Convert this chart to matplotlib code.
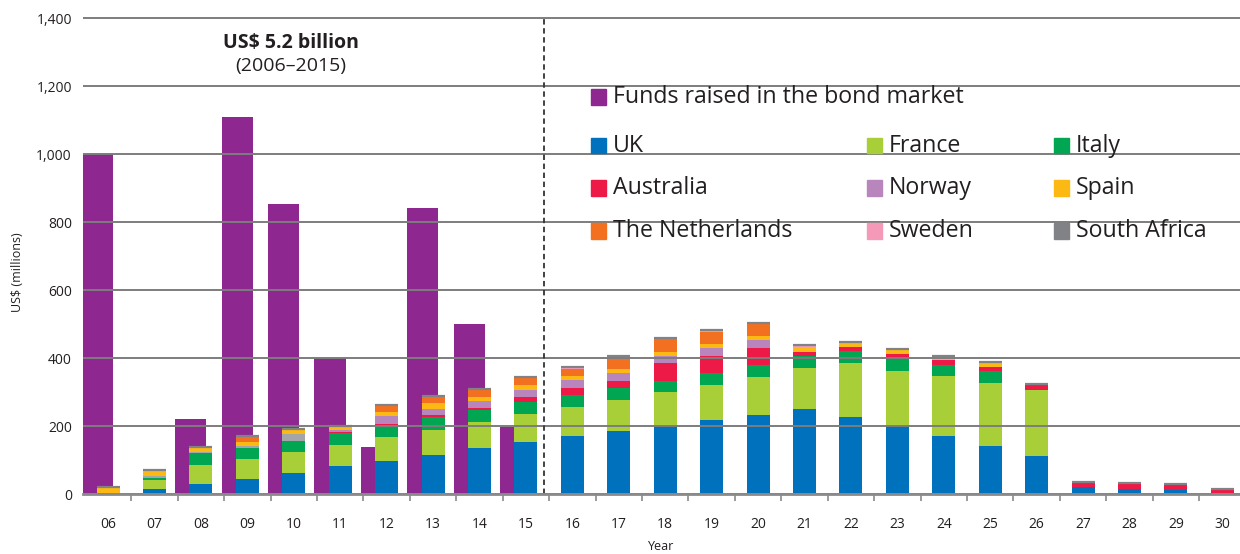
import numpy as np
import matplotlib
matplotlib.use("Agg")
import matplotlib.pyplot as plt
from matplotlib.patches import Rectangle

plt.rcParams['font.family'] = ['Open Sans', 'DejaVu Sans']

# data (US$ millions)
years = ['06', '07', '08', '09', '10', '11', '12', '13', '14', '15', '16', '17', '18',
         '19', '20', '21', '22', '23', '24', '25', '26', '27', '28', '29', '30']
bond = [1000, 0, 222, 1110, 853, 400, 138, 843, 500, 198]  # 2006-2015 only

uk = [0, 16, 31, 45, 63, 83, 98, 116, 136, 154, 172, 186, 201, 219, 233, 251, 227, 201, 172, 142, 113, 21, 16, 14, 0]
france = [0, 27, 54, 59, 62, 62, 70, 74, 76, 82, 85, 91, 100, 103, 112, 121, 159, 162, 176, 185, 194, 0, 0, 0, 0]
italy = [2, 5, 35, 32, 32, 34, 32, 36, 35, 36, 35, 35, 32, 35, 35, 35, 35, 35, 32, 35, 0, 0, 0, 0, 0]
south_africa = [3, 6, 3, 7, 20, 0, 0, 0, 0, 0, 0, 0, 0, 0, 0, 0, 0, 0, 0, 0, 0, 0, 0, 0, 0]
australia = [0, 0, 0, 0, 0, 5, 7, 6, 6, 14, 21, 21, 53, 50, 50, 12, 12, 15, 15, 12, 15, 15, 16, 15, 13]
norway = [0, 0, 0, 0, 0, 5, 23, 20, 21, 22, 23, 23, 21, 23, 23, 0, 0, 0, 0, 0, 0, 0, 0, 0, 0]
spain = [14, 14, 16, 11, 13, 8, 11, 15, 12, 14, 12, 12, 12, 12, 12, 15, 14, 12, 9, 12, 0, 0, 0, 0, 0]
netherlands = [0, 2, 0, 16, 0, 0, 21, 19, 21, 21, 21, 34, 38, 35, 35, 0, 0, 0, 0, 0, 0, 0, 0, 0, 0]
sweden = [0, 0, 0, 0, 0, 3, 0, 0, 2, 0, 3, 3, 0, 3, 3, 3, 0, 0, 0, 0, 0, 0, 0, 0, 0]

# stacking order (bottom -> top)
stack = [
    ('UK', uk, '#0071bc'),
    ('France', france, '#a8cf38'),
    ('Italy', italy, '#00a651'),
    ('South Africa', south_africa, '#a3a5a8'),
    ('Australia', australia, '#ed1a47'),
    ('Norway', norway, '#b886bd'),
    ('Spain', spain, '#fdb913'),
    ('The Netherlands', netherlands, '#f37021'),
    ('Sweden', sweden, '#f49ab8'),
]
purple = '#8e278f'
grey = '#808285'
txt = '#231f20'

fig = plt.figure(figsize=(12.4, 5.54), dpi=100)
ax = fig.add_axes([83 / 1240, 59.7 / 554, 1 - 83 / 1240, (537 - 59.7) / 554])

x = np.arange(len(years))
bw = 0.495

# bond market bars (behind the stacks)
ax.bar(x[:len(bond)] - 0.22, bond, width=0.67, color=purple, zorder=1)

bottom = np.zeros(len(years))
for name, vals, col in stack:
    vals = np.array(vals, dtype=float)
    ax.bar(x, vals, width=bw, bottom=bottom, color=col, zorder=1.2, linewidth=0)
    bottom += vals

# thin grey cap on every stacked bar
ax.hlines(bottom + 1.5, x - bw / 2, x + bw / 2, color=grey, lw=1.6, zorder=1.3)

ax.set_xlim(-0.54, 24.38)
ax.set_ylim(0, 1403)
ax.set_yticks(np.arange(0, 1401, 200))
ax.set_yticklabels([f'{v:,}' for v in range(0, 1401, 200)])
ax.yaxis.grid(True, color='#7d7d7d', lw=1.4)
ax.set_axisbelow(False)

ax.set_xticks(x)
ax.set_xticklabels(years)
ax.set_xticks(np.arange(0.5, 24.5, 1), minor=True)
ax.tick_params(axis='x', which='major', length=0, pad=16, labelsize=10, labelcolor=txt)
ax.tick_params(axis='x', which='minor', length=5, width=1.2, color='#8a8a8a')
ax.tick_params(axis='y', length=0, pad=8, labelsize=10, labelcolor=txt)

for s in ['left', 'top', 'right']:
    ax.spines[s].set_visible(False)
ax.spines['bottom'].set_color('#8a8a8a')
ax.spines['bottom'].set_linewidth(2)
ax.spines['bottom'].set_zorder(3)

# axis titles
fig.text(18 / 1240, 1 - 272 / 554, 'US$ (millions)', rotation=90, fontsize=9,
         color=txt, ha='center', va='center')
fig.text(661 / 1240, 1 - 546 / 554, 'Year', fontsize=9, color=txt, ha='center', va='center')

# dashed divider between 2015 and 2016
ax.axvline(9.39, color='#333333', lw=1.3, ls=(0, (3, 2)), zorder=3)

ax.text(3.94, 1326, 'US$ 5.2 billion', ha='center', va='center', fontsize=14,
        fontweight='bold', color=txt)
ax.text(3.94, 1259, '(2006\u20132015)', ha='center', va='center', fontsize=14,
        color=txt)

# legend, placed by hand
def legend_item(px, py, label, col):
    fig.patches.append(Rectangle((px / 1240, 1 - (py + 7.5) / 554), 15 / 1240, 15 / 554,
                                 transform=fig.transFigure, color=col, figure=fig))
    fig.text((px + 22) / 1240, 1 - py / 554, label, fontsize=16.7, va='center', ha='left',
             color=txt)

legend_item(591, 97, 'Funds raised in the bond market', purple)
cols = [591, 867, 1054]
rows = [146, 188, 231]
leg_order = [('UK', '#0071bc'), ('France', '#a8cf38'), ('Italy', '#00a651'),
             ('Australia', '#ed1a47'), ('Norway', '#b886bd'), ('Spain', '#fdb913'),
             ('The Netherlands', '#f37021'), ('Sweden', '#f49ab8'), ('South Africa', grey)]
for i, (name, col) in enumerate(leg_order):
    legend_item(cols[i % 3], rows[i // 3], name, col)

fig.savefig('out.png', dpi=100)
